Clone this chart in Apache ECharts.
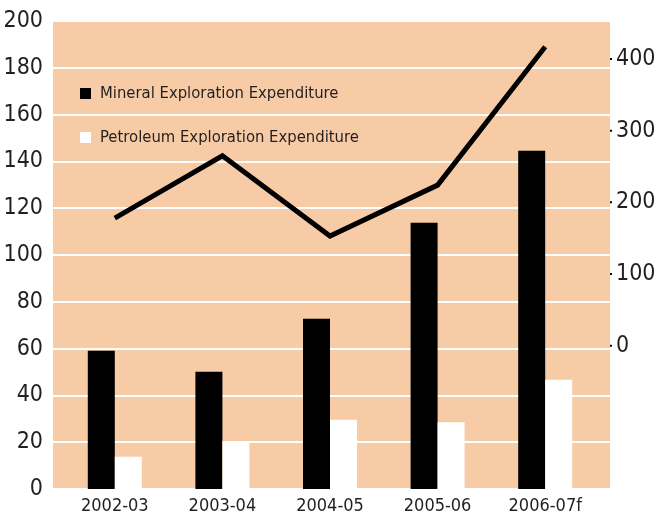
<!DOCTYPE html>
<html>
<head>
<meta charset="utf-8">
<script src="https://cdn.jsdelivr.net/npm/echarts@6/dist/echarts.min.js"></script>
<style>
html,body{margin:0;padding:0;background:#fff;}
#chart{width:661px;height:525px;}
</style>
</head>
<body>
<div id="chart"></div>
<script>
var categories = ['2002-03', '2003-04', '2004-05', '2005-06', '2006-07f'];
var mineral = [59.1, 50.1, 72.8, 113.8, 144.6];
var petroleum = [13.8, 20.3, 29.6, 28.5, 46.7];
var lineValues = [178, 265, 153, 224, 417];
var seriesNames = ['Mineral Exploration Expenditure', 'Petroleum Exploration Expenditure'];

var FONT = "'Liberation Sans Narrow', 'DejaVu Sans Condensed', 'Arial Narrow', sans-serif";
var peach = '#F6CBA5';
var textColor = '#231F20';

var chart = echarts.init(document.getElementById('chart'), null, {renderer: 'canvas'});
chart.setOption({
  animation: false,
  backgroundColor: '#ffffff',
  textStyle: {fontFamily: FONT},
  grid: [
    {left: 53, right: 51, top: 21, bottom: 36, show: true, backgroundColor: peach, borderWidth: 0, containLabel: false},
    {left: 61, right: 62, top: 21, bottom: 36, show: false, containLabel: false}
  ],
  legend: {
    orient: 'vertical',
    left: 75,
    top: 80,
    itemWidth: 11,
    itemHeight: 11,
    itemGap: 27,
    icon: 'rect',
    data: seriesNames,
    textStyle: {fontFamily: FONT, fontSize: 16.5, color: textColor, padding: [0, 0, 0, 4]}
  },
  xAxis: [
    {type: 'category', gridIndex: 0, data: categories, show: false},
    {type: 'category', gridIndex: 1, data: categories,
      axisLine: {show: false}, axisTick: {show: false},
      axisLabel: {interval: 0, fontFamily: FONT, fontSize: 18, color: textColor, margin: 8}}
  ],
  yAxis: [
    {type: 'value', gridIndex: 0, min: 0, max: 200, interval: 20, position: 'left',
      axisLine: {show: false}, axisTick: {show: false},
      splitLine: {show: true, lineStyle: {color: '#ffffff', width: 2}},
      axisLabel: {fontFamily: FONT, fontSize: 23, color: textColor, margin: 10}},
    {type: 'value', gridIndex: 1, min: 0, max: 200, interval: 20, show: false},
    {type: 'value', gridIndex: 0, min: -200, max: 453, interval: 100, position: 'right',
      axisLine: {show: false}, axisTick: {show: false}, splitLine: {show: false},
      axisLabel: {
        margin: 0,
        formatter: function (v) {
          if (v < 0 || v > 400) return '';
          return '{t|}{v|' + v + '}';
        },
        rich: {
          t: {width: 2, height: 2, backgroundColor: '#000000'},
          v: {fontFamily: FONT, fontSize: 23, color: textColor, padding: [0, 0, 0, 4]}
        }
      }},
    {type: 'value', gridIndex: 1, min: -200, max: 453, interval: 100, show: false}
  ],
  series: [
    {name: seriesNames[0], type: 'bar', xAxisIndex: 1, yAxisIndex: 1, data: mineral,
      barWidth: 27, barGap: '0%', itemStyle: {color: '#000000'}},
    {name: seriesNames[1], type: 'bar', xAxisIndex: 1, yAxisIndex: 1, data: petroleum,
      barWidth: 27, barGap: '0%', itemStyle: {color: '#ffffff'}},
    {name: 'Line', type: 'line', xAxisIndex: 1, yAxisIndex: 3, data: lineValues,
      symbol: 'none', z: 5, lineStyle: {color: '#000000', width: 5, join: 'miter'}}
  ]
});
</script>
</body>
</html>
